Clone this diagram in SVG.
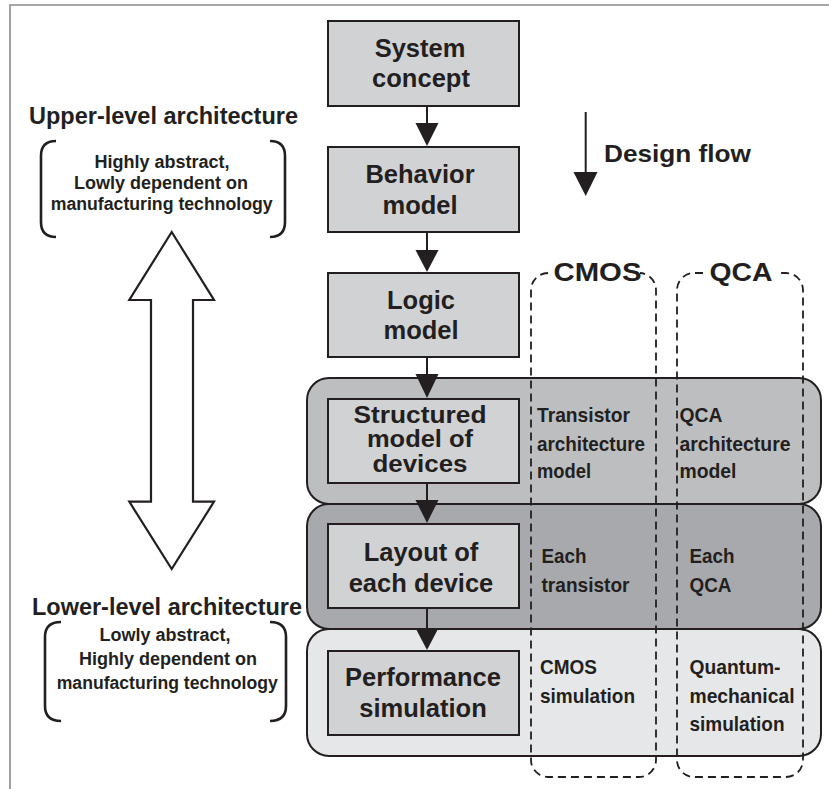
<svg xmlns="http://www.w3.org/2000/svg" width="829" height="789" viewBox="0 0 829 789">
<style>
text{font-family:"Liberation Sans",Arial,sans-serif;font-weight:bold;fill:#231f20}
.box{fill:#d1d2d4;stroke:#231f20;stroke-width:2}
.band{stroke:#231f20;stroke-width:2}
.col{fill:none;stroke:#231f20;stroke-width:1.8;stroke-dasharray:8 5}
.bt{font-size:25.5px;text-anchor:middle}
.bs{font-size:23px;text-anchor:middle}
.ct{font-size:21px}
.side{font-size:18px;text-anchor:middle}
.title{font-size:23.5px;text-anchor:middle}
.conn line{stroke:#231f20;stroke-width:2}
.conn polygon{fill:#231f20}
.brk{fill:none;stroke:#231f20;stroke-width:2.6}
</style>
<rect width="829" height="789" fill="#fff"/>
<path d="M10 789 V5 H829" fill="none" stroke="#8a8a8a" stroke-width="1.6"/>

<g id="band-structured"><rect class="band" x="307" y="378" width="514" height="126" rx="22" fill="#bcbec0"/></g>
<g id="band-layout"><rect class="band" x="307" y="504" width="514" height="125" rx="22" fill="#a7a9ac"/></g>
<g id="band-simulation"><rect class="band" x="307" y="629" width="514" height="127" rx="22" fill="#e6e7e8"/></g>

<g id="col-cmos">
<path class="col" d="M548 273 A17 17 0 0 0 531 290 V760 A17 17 0 0 0 548 777 H639 A17 17 0 0 0 656 760 V290 A17 17 0 0 0 640 273"/>
<text x="597.5" y="281" font-size="26" text-anchor="middle" textLength="88" lengthAdjust="spacingAndGlyphs">CMOS</text>
<text class="ct" x="537" y="422" textLength="93" lengthAdjust="spacingAndGlyphs">Transistor</text>
<text class="ct" x="537" y="451" textLength="108" lengthAdjust="spacingAndGlyphs">architecture</text>
<text class="ct" x="537" y="478" textLength="54" lengthAdjust="spacingAndGlyphs">model</text>
<text class="ct" x="541.5" y="563" textLength="45" lengthAdjust="spacingAndGlyphs">Each</text>
<text class="ct" x="541.5" y="592" textLength="88" lengthAdjust="spacingAndGlyphs">transistor</text>
<text class="ct" x="540" y="674" textLength="57" lengthAdjust="spacingAndGlyphs">CMOS</text>
<text class="ct" x="540" y="703" textLength="95" lengthAdjust="spacingAndGlyphs">simulation</text>
</g>

<g id="col-qca">
<path class="col" d="M703 273 H694 A17 17 0 0 0 677 290 V760 A17 17 0 0 0 694 777 H786 A17 17 0 0 0 803 760 V290 A17 17 0 0 0 786 273 H780"/>
<text x="741" y="281" font-size="26" text-anchor="middle" textLength="63" lengthAdjust="spacingAndGlyphs">QCA</text>
<text class="ct" x="679.5" y="422" textLength="43" lengthAdjust="spacingAndGlyphs">QCA</text>
<text class="ct" x="679.5" y="451" textLength="111" lengthAdjust="spacingAndGlyphs">architecture</text>
<text class="ct" x="679.5" y="478" textLength="57" lengthAdjust="spacingAndGlyphs">model</text>
<text class="ct" x="689.5" y="563" textLength="45" lengthAdjust="spacingAndGlyphs">Each</text>
<text class="ct" x="689.5" y="592" textLength="42" lengthAdjust="spacingAndGlyphs">QCA</text>
<text class="ct" x="689.5" y="674" textLength="91" lengthAdjust="spacingAndGlyphs">Quantum-</text>
<text class="ct" x="689.5" y="703" textLength="105" lengthAdjust="spacingAndGlyphs">mechanical</text>
<text class="ct" x="689.5" y="731" textLength="95" lengthAdjust="spacingAndGlyphs">simulation</text>
</g>

<g id="system-concept"><rect class="box" x="328" y="21" width="191" height="85"/>
<text class="bt" x="420" y="57">System</text><text class="bt" x="421" y="87">concept</text></g>
<g id="behavior-model"><rect class="box" x="328" y="147" width="191" height="85"/>
<text class="bt" x="420" y="183">Behavior</text><text class="bt" x="420" y="214">model</text></g>
<g id="logic-model"><rect class="box" x="328" y="273" width="191" height="84"/>
<text class="bt" x="421" y="309">Logic</text><text class="bt" x="421" y="339">model</text></g>
<g id="structured-model"><rect class="box" x="328" y="399" width="191" height="84"/>
<text class="bs" x="420" y="423" textLength="133" lengthAdjust="spacingAndGlyphs">Structured</text><text class="bs" x="420" y="447" textLength="106" lengthAdjust="spacingAndGlyphs">model of</text><text class="bs" x="420" y="471.5" textLength="95" lengthAdjust="spacingAndGlyphs">devices</text></g>
<g id="layout-device"><rect class="box" x="328" y="524" width="191" height="84"/>
<text class="bt" x="421" y="561">Layout of</text><text class="bt" x="421" y="592">each device</text></g>
<g id="performance-simulation"><rect class="box" x="328" y="651" width="191" height="84"/>
<text class="bt" x="423" y="686">Performance</text><text class="bt" x="423" y="717">simulation</text></g>

<g id="connectors" class="conn">
<line x1="427" y1="106" x2="427" y2="124"/><polygon points="415.5,123 438.5,123 427,146"/>
<line x1="427" y1="232" x2="427" y2="251"/><polygon points="415.5,250 438.5,250 427,272"/>
<line x1="427" y1="357" x2="427" y2="375"/><polygon points="415.5,374 438.5,374 427,398"/>
<line x1="427" y1="483" x2="427" y2="501"/><polygon points="415.5,500 438.5,500 427,523"/>
<line x1="427" y1="608" x2="427" y2="629"/><polygon points="415.5,628 438.5,628 427,650"/>
</g>

<g id="design-flow">
<line x1="585.7" y1="112" x2="585.7" y2="173" stroke="#231f20" stroke-width="2"/>
<polygon points="573.5,172 597.5,172 585.7,196" fill="#231f20"/>
<text x="604" y="162" font-size="24" textLength="147" lengthAdjust="spacingAndGlyphs">Design flow</text>
</g>

<g id="upper-level">
<text class="title" x="163.5" y="124" textLength="269" lengthAdjust="spacingAndGlyphs">Upper-level architecture</text>
<path class="brk" d="M56 141 Q41 141 41 156 V222 Q41 237 56 237"/>
<path class="brk" d="M270 141 Q285 141 285 156 V222 Q285 237 270 237"/>
<text class="side" x="162" y="168">Highly abstract,</text>
<text class="side" x="161" y="189">Lowly dependent on</text>
<text class="side" x="161.7" y="209.5" textLength="222" lengthAdjust="spacingAndGlyphs">manufacturing technology</text>
</g>

<g id="abstraction-arrow">
<polygon points="171.7,232 214,300 193,300 193,501.7 214,501.7 171.7,569 129.3,501.7 151,501.7 151,300 129.3,300" fill="#fff" stroke="#231f20" stroke-width="2.2" stroke-linejoin="miter"/>
</g>

<g id="lower-level">
<text class="title" x="167" y="615" textLength="270" lengthAdjust="spacingAndGlyphs">Lower-level architecture</text>
<path class="brk" d="M61 622 Q45 622 45 637 V706 Q45 721 61 721"/>
<path class="brk" d="M270 622 Q286 622 286 637 V706 Q286 721 270 721"/>
<text class="side" x="165" y="641">Lowly abstract,</text>
<text class="side" x="168" y="665">Highly dependent on</text>
<text class="side" x="167.2" y="689" textLength="221" lengthAdjust="spacingAndGlyphs">manufacturing technology</text>
</g>
</svg>
